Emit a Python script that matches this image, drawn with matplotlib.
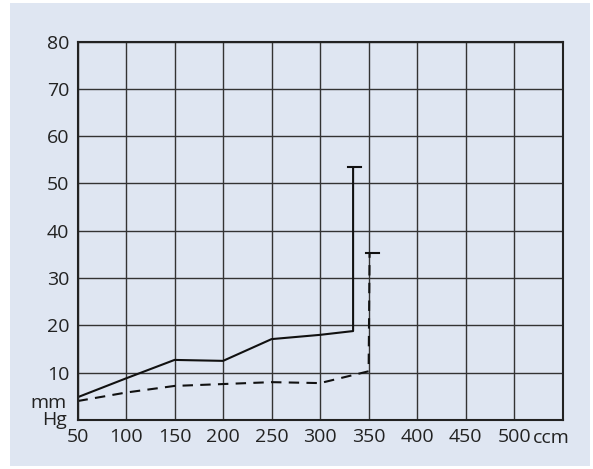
import matplotlib.pyplot as plt
from matplotlib.patches import Rectangle

plt.rcParams['font.family'] = ['Open Sans', 'DejaVu Sans']

# volume (ccm) and pressure (mm Hg)
vol_solid = [50, 100, 150, 200, 250, 300, 334, 334]
p_solid = [4.8, 8.8, 12.7, 12.5, 17.1, 18.0, 18.8, 53.4]
vol_dash = [50, 100, 150, 200, 250, 300, 350, 351]
p_dash = [4.0, 5.8, 7.2, 7.6, 8.0, 7.8, 10.3, 35.4]

xticks = [50, 100, 150, 200, 250, 300, 350, 400, 450, 500, 550]
xlabels = ['50', '100', '150', '200', '250', '300', '350', '400', '450', '500', '']
yticks = [0, 10, 20, 30, 40, 50, 60, 70, 80]
ylabels = ['', '10', '20', '30', '40', '50', '60', '70', '80']

bg = '#dfe6f2'
fig = plt.figure(figsize=(5.93, 4.69), dpi=100, facecolor='white')
fig.patches.append(Rectangle((10 / 593, 3 / 469), 580 / 593, 463 / 469,
                             transform=fig.transFigure, facecolor=bg,
                             edgecolor='none', zorder=-10))
ax = fig.add_axes([0.1307, 0.1045, 0.8182, 0.8068])
ax.set_facecolor(bg)

ax.plot(vol_solid, p_solid, color='#111111', lw=1.5)
ax.plot(vol_dash, p_dash, color='#111111', lw=1.5, dashes=(5, 3.5))
# end caps
ax.plot([vol_solid[-1] - 5.5, vol_solid[-1] + 8.5], [p_solid[-1]] * 2, color='#111111', lw=1.5)
ax.plot([vol_dash[-1] - 4, vol_dash[-1] + 9.5], [p_dash[-1]] * 2, color='#111111', lw=1.5)

ax.set_xlim(50, 550)
ax.set_ylim(0, 80)
ax.set_xticks(xticks)
ax.set_xticklabels(xlabels)
ax.set_yticks(yticks)
ax.set_yticklabels(ylabels)
ax.tick_params(length=0, labelsize=14, pad=6, colors='#222222')
ax.tick_params(axis='x', pad=6)
ax.grid(True, color='#333333', lw=1.0)
for s in ax.spines.values():
    s.set_color('#222222')
    s.set_linewidth(1.5)

ax.text(519, -3.8, 'ccm', fontsize=14, ha='left', va='center', color='#222222')
ax.text(-0.022, 0.045, 'mm', transform=ax.transAxes, fontsize=14,
        ha='right', va='center', color='#222222')
ax.text(-0.022, 0.0, 'Hg', transform=ax.transAxes, fontsize=14,
        ha='right', va='center', color='#222222')

fig.savefig('out.png', dpi=100, facecolor='white')
